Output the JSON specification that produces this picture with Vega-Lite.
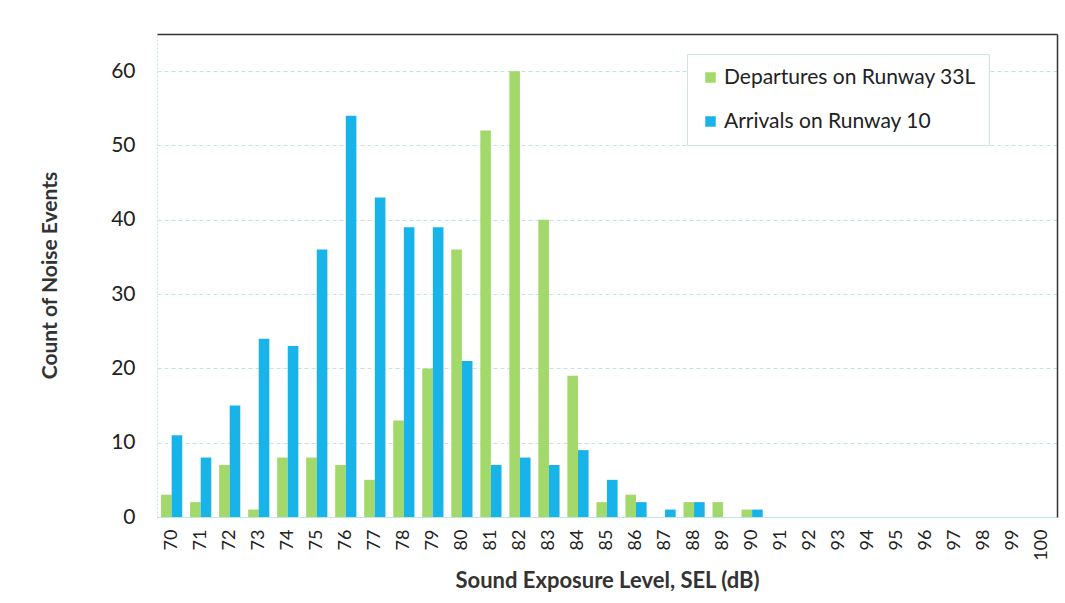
{
  "$schema": "https://vega.github.io/schema/vega-lite/v6.json",
  "width": 900,
  "height": 483,
  "autosize": {"type": "none"},
  "padding": {"left": 157, "top": 34, "right": 8, "bottom": 86},
  "background": "white",
  "config": {
    "font": "Lato",
    "view": {"stroke": null},
    "axis": {"labelFont": "Lato", "titleFont": "Lato", "labelColor": "#222", "titleColor": "#333"}
  },
  "data": {
    "values": [
      {"sel": 70, "series": "Departures on Runway 33L", "count": 3},
      {"sel": 71, "series": "Departures on Runway 33L", "count": 2},
      {"sel": 72, "series": "Departures on Runway 33L", "count": 7},
      {"sel": 73, "series": "Departures on Runway 33L", "count": 1},
      {"sel": 74, "series": "Departures on Runway 33L", "count": 8},
      {"sel": 75, "series": "Departures on Runway 33L", "count": 8},
      {"sel": 76, "series": "Departures on Runway 33L", "count": 7},
      {"sel": 77, "series": "Departures on Runway 33L", "count": 5},
      {"sel": 78, "series": "Departures on Runway 33L", "count": 13},
      {"sel": 79, "series": "Departures on Runway 33L", "count": 20},
      {"sel": 80, "series": "Departures on Runway 33L", "count": 36},
      {"sel": 81, "series": "Departures on Runway 33L", "count": 52},
      {"sel": 82, "series": "Departures on Runway 33L", "count": 60},
      {"sel": 83, "series": "Departures on Runway 33L", "count": 40},
      {"sel": 84, "series": "Departures on Runway 33L", "count": 19},
      {"sel": 85, "series": "Departures on Runway 33L", "count": 2},
      {"sel": 86, "series": "Departures on Runway 33L", "count": 3},
      {"sel": 87, "series": "Departures on Runway 33L", "count": 0},
      {"sel": 88, "series": "Departures on Runway 33L", "count": 2},
      {"sel": 89, "series": "Departures on Runway 33L", "count": 2},
      {"sel": 90, "series": "Departures on Runway 33L", "count": 1},
      {"sel": 91, "series": "Departures on Runway 33L", "count": 0},
      {"sel": 92, "series": "Departures on Runway 33L", "count": 0},
      {"sel": 93, "series": "Departures on Runway 33L", "count": 0},
      {"sel": 94, "series": "Departures on Runway 33L", "count": 0},
      {"sel": 95, "series": "Departures on Runway 33L", "count": 0},
      {"sel": 96, "series": "Departures on Runway 33L", "count": 0},
      {"sel": 97, "series": "Departures on Runway 33L", "count": 0},
      {"sel": 98, "series": "Departures on Runway 33L", "count": 0},
      {"sel": 99, "series": "Departures on Runway 33L", "count": 0},
      {"sel": 100, "series": "Departures on Runway 33L", "count": 0},
      {"sel": 70, "series": "Arrivals on Runway 10", "count": 11},
      {"sel": 71, "series": "Arrivals on Runway 10", "count": 8},
      {"sel": 72, "series": "Arrivals on Runway 10", "count": 15},
      {"sel": 73, "series": "Arrivals on Runway 10", "count": 24},
      {"sel": 74, "series": "Arrivals on Runway 10", "count": 23},
      {"sel": 75, "series": "Arrivals on Runway 10", "count": 36},
      {"sel": 76, "series": "Arrivals on Runway 10", "count": 54},
      {"sel": 77, "series": "Arrivals on Runway 10", "count": 43},
      {"sel": 78, "series": "Arrivals on Runway 10", "count": 39},
      {"sel": 79, "series": "Arrivals on Runway 10", "count": 39},
      {"sel": 80, "series": "Arrivals on Runway 10", "count": 21},
      {"sel": 81, "series": "Arrivals on Runway 10", "count": 7},
      {"sel": 82, "series": "Arrivals on Runway 10", "count": 8},
      {"sel": 83, "series": "Arrivals on Runway 10", "count": 7},
      {"sel": 84, "series": "Arrivals on Runway 10", "count": 9},
      {"sel": 85, "series": "Arrivals on Runway 10", "count": 5},
      {"sel": 86, "series": "Arrivals on Runway 10", "count": 2},
      {"sel": 87, "series": "Arrivals on Runway 10", "count": 1},
      {"sel": 88, "series": "Arrivals on Runway 10", "count": 2},
      {"sel": 89, "series": "Arrivals on Runway 10", "count": 0},
      {"sel": 90, "series": "Arrivals on Runway 10", "count": 1},
      {"sel": 91, "series": "Arrivals on Runway 10", "count": 0},
      {"sel": 92, "series": "Arrivals on Runway 10", "count": 0},
      {"sel": 93, "series": "Arrivals on Runway 10", "count": 0},
      {"sel": 94, "series": "Arrivals on Runway 10", "count": 0},
      {"sel": 95, "series": "Arrivals on Runway 10", "count": 0},
      {"sel": 96, "series": "Arrivals on Runway 10", "count": 0},
      {"sel": 97, "series": "Arrivals on Runway 10", "count": 0},
      {"sel": 98, "series": "Arrivals on Runway 10", "count": 0},
      {"sel": 99, "series": "Arrivals on Runway 10", "count": 0},
      {"sel": 100, "series": "Arrivals on Runway 10", "count": 0}
    ]
  },
  "layer": [
    {
      "mark": {"type": "bar"},
      "encoding": {
        "x": {
          "field": "sel",
          "type": "ordinal",
          "scale": {"paddingInner": 0.27, "paddingOuter": 0.14},
          "axis": {
            "title": "Sound Exposure Level, SEL (dB)",
            "titleFontSize": 22,
            "titleFontWeight": "bold",
            "titleY": 63,
            "titleBaseline": "middle",
            "labelAngle": -90,
            "labelFontSize": 18,
            "labelPadding": 12,
            "labelBaseline": "middle",
            "ticks": false,
            "domainColor": "#bfe6e6",
            "grid": false
          }
        },
        "xOffset": {
          "field": "series",
          "type": "nominal",
          "sort": ["Departures on Runway 33L", "Arrivals on Runway 10"],
          "scale": {"paddingInner": 0, "paddingOuter": 0}
        },
        "y": {
          "field": "count",
          "type": "quantitative",
          "scale": {"domain": [0, 65], "nice": false},
          "axis": {
            "title": "Count of Noise Events",
            "titleFontSize": 21,
            "titleFontWeight": "bold",
            "titleX": -107,
            "titleY": 241,
            "titleAngle": -90,
            "titleAlign": "center",
            "titleBaseline": "middle",
            "values": [0, 10, 20, 30, 40, 50, 60],
            "labelFontSize": 21,
            "labelPadding": 22,
            "ticks": false,
            "domainColor": "#c8e4e4",
            "domainDash": [2, 2],
            "grid": true,
            "gridColor": "#bfe6e6",
            "gridDash": [4, 3]
          }
        },
        "color": {
          "field": "series",
          "type": "nominal",
          "scale": {
            "domain": ["Departures on Runway 33L", "Arrivals on Runway 10"],
            "range": ["#a2d96a", "#17b3e9"]
          },
          "legend": {
            "title": null,
            "orient": "none",
            "legendX": 530,
            "legendY": 20,
            "padding": 13,
            "rowPadding": 22,
            "labelFontSize": 21,
            "labelColor": "#222",
            "labelOffset": 3,
            "symbolType": "square",
            "symbolSize": 110,
            "symbolStrokeWidth": 0,
            "strokeColor": "#cfe4e4",
            "fillColor": "white",
            "labelLimit": 400
          }
        }
      }
    },
    {
      "mark": {"type": "bar", "opacity": 0},
      "encoding": {
        "x": {
          "field": "sel",
          "type": "ordinal",
          "axis": {"orient": "top", "labels": false, "ticks": false, "title": null, "domainColor": "#333", "domainWidth": 1.5, "grid": false}
        },
        "y": {
          "field": "count",
          "type": "quantitative",
          "axis": {"orient": "right", "labels": false, "ticks": false, "title": null, "domainColor": "#333", "domainWidth": 1.5, "grid": false}
        }
      }
    }
  ],
  "resolve": {"axis": {"x": "independent", "y": "independent"}}
}
